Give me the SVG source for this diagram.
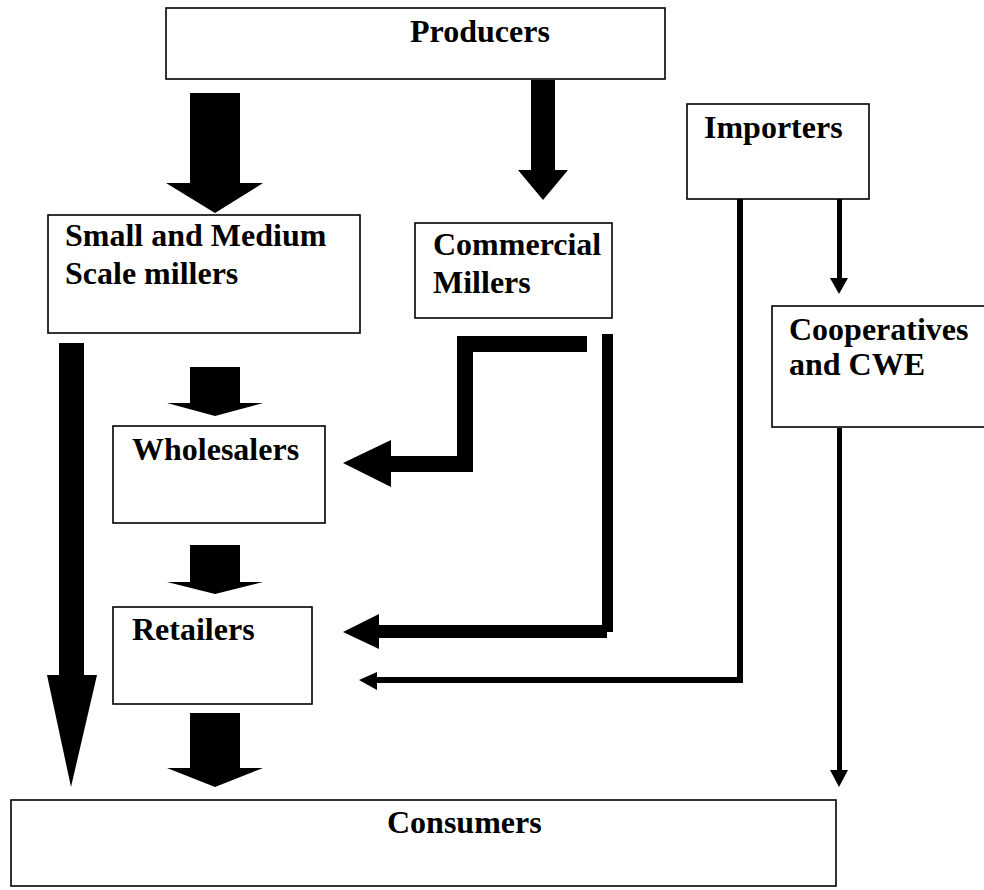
<svg xmlns="http://www.w3.org/2000/svg" width="984" height="890" viewBox="0 0 984 890">
<style>
.box{fill:#fff;stroke:#000;stroke-width:1.6}
.t{font-family:"Liberation Serif","Times New Roman",serif;font-weight:bold;font-size:32px;fill:#000}
.a{fill:#000;stroke:none}
</style>
<rect width="984" height="890" fill="#fff"/>
<g id="producers"><rect class="box" x="166" y="8" width="499" height="71"/><text class="t" x="410" y="42">Producers</text></g>
<g id="small-medium"><rect class="box" x="48" y="215" width="312" height="118"/><text class="t" x="65" y="246">Small and Medium</text><text class="t" x="65" y="284">Scale millers</text></g>
<g id="commercial"><rect class="box" x="415" y="223" width="197" height="95"/><text class="t" x="433" y="255">Commercial</text><text class="t" x="433" y="293">Millers</text></g>
<g id="importers"><rect class="box" x="687" y="104" width="182" height="95"/><text class="t" x="704" y="138">Importers</text></g>
<g id="cooperatives"><rect class="box" x="772" y="306" width="216" height="121"/><text class="t" x="789" y="340">Cooperatives</text><text class="t" x="789" y="375">and CWE</text></g>
<g id="wholesalers"><rect class="box" x="113" y="426" width="212" height="97"/><text class="t" x="132" y="460">Wholesalers</text></g>
<g id="retailers"><rect class="box" x="113" y="607" width="199" height="97"/><text class="t" x="132" y="640">Retailers</text></g>
<g id="consumers"><rect class="box" x="11" y="800" width="825" height="86"/><text class="t" x="387" y="833">Consumers</text></g>
<g id="connectors">
<polygon class="a" points="190,93 240,93 240,183 263,183 215,213 166,183 190,183"/>
<polygon class="a" points="531,80 555,80 555,170 568,170 543,200 518,170 531,170"/>
<polygon class="a" points="59,343 84,343 84,675 97,675 71,787 47,675 59,675"/>
<polygon class="a" points="190,367 240,367 240,403 263,403 215,416 167,403 190,403"/>
<polygon class="a" points="190,545 240,545 240,582 263,582 215,594 167,582 190,582"/>
<polygon class="a" points="190,713 240,713 240,768 263,768 215,787 167,768 190,768"/>
<polygon class="a" points="587,336 457,336 457,456 391,456 391,440 343,463 391,487 391,472 473,472 473,352 587,352"/>
<polygon class="a" points="602,334 613,334 613,632 607,632 607,638 379,638 379,649 343,632 379,614 379,625 602,625"/>
<polygon class="a" points="737,199 743,199 743,683 377,683 377,690 359,680 377,672 377,677 737,677"/>
<polygon class="a" points="837,199 842,199 842,278 848,278 839,294 830,278 837,278"/>
<polygon class="a" points="837,428 842,428 842,770 848,770 839,787 830,770 837,770"/>
</g>
</svg>
